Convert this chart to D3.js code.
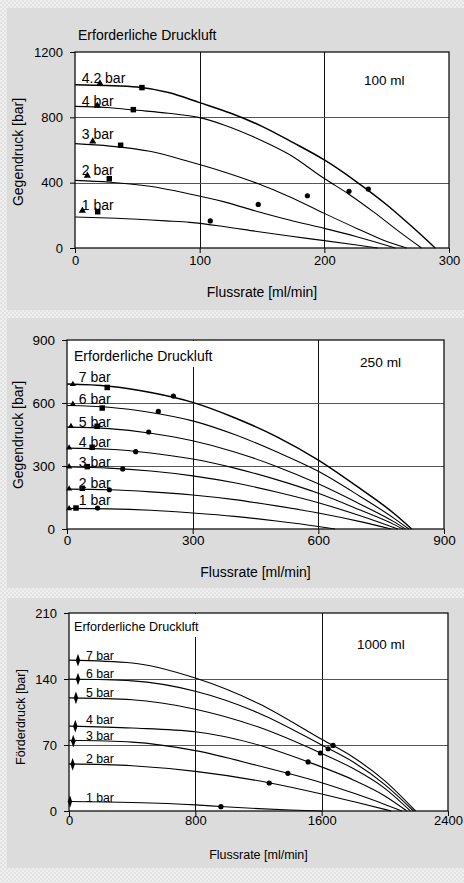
<!DOCTYPE html>
<html>
<head>
<meta charset="utf-8">
<script src="https://cdn.jsdelivr.net/npm/d3@7"></script>
<style>
  body { margin: 0; background: #dcdcdc; }
  svg { display: block; }
  text { font-family: "Liberation Sans", Arial, sans-serif; fill: #000; }
</style>
</head>
<body>
<div id="chart"></div>
<script>
// ---------- 100 ml ----------
const labels100 = ["1 bar", "2 bar", "3 bar", "4 bar", "4.2 bar"];
const curve100_1 = [[0,190],[33,182],[73,166],[92,157],[119,132],[146,101],[172,73],[200,45],[226,18],[243,0]];
const curve100_2 = [[0,414],[28,403],[60,378],[92,331],[119,284],[147,222],[172,171],[200,120],[226,69],[257,0]];
const curve100_3 = [[0,639],[28,624],[60,592],[92,528],[119,467],[146,396],[172,314],[200,212],[226,120],[247,49],[266,0]];
const curve100_4 = [[0,867],[25,860],[50,843],[75,825],[100,798],[120,752],[146,671],[172,572],[200,425],[220,328],[240,218],[260,100],[278,0]];
const curve100_42 = [[0,1000],[25,995],[50,985],[75,952],[100,890],[125,825],[150,745],[175,645],[200,539],[225,410],[250,265],[270,133],[289,0]];
const tri100 = [[5.9,229],[9.9,443],[14.2,653],[17.9,871],[20,1008]];
const sq100 = [[18.2,222],[27.5,424],[36.6,629],[46.8,847],[53.7,982]];
const dot100 = [[108.5,166],[147,267],[186.4,320],[219.8,347],[235.3,361]];
const labelAt100 = [[5.4,233],[5.4,450],[5.4,667],[5.4,869],[5.4,1010]];

// ---------- 250 ml ----------
const labels250 = ["1 bar", "2 bar", "3 bar", "4 bar", "5 bar", "6 bar", "7 bar"];
const curve250_1 = [[0,98],[100,96],[200,89],[300,76],[400,60],[500,38],[600,12],[640,0]];
const curve250_2 = [[0,190],[100,187],[200,177],[300,162],[400,140],[500,110],[600,76],[700,35],[774,0]];
const curve250_3 = [[0,295],[100,290],[200,276],[300,253],[400,220],[500,176],[600,125],[700,63],[790,0]];
const curve250_4 = [[0,385],[100,380],[200,362],[300,333],[400,290],[500,235],[600,170],[700,90],[780,22],[802,0]];
const curve250_5 = [[0,485],[100,478],[200,456],[300,420],[400,367],[500,298],[600,215],[700,118],[780,35],[808,0]];
const curve250_6 = [[0,588],[100,580],[200,555],[300,515],[400,450],[500,368],[600,275],[700,155],[780,52],[816,0]];
const curve250_7 = [[0,690],[100,680],[200,650],[300,603],[400,530],[500,440],[600,328],[700,192],[780,75],[823,0]];
const tri250 = [[5,98],[5,192],[5,297],[5,387],[9.5,489],[14,595],[14,689]];
const sq250 = [[21.5,100],[36.6,194],[48.5,297],[60,389],[72,489],[84,576],[96,674]];
const dot250 = [[73,100],[101,187],[133,286],[164,368],[195,462],[218,560],[254,633]];
const labelAt250 = [[28,114],[28,194],[28,297],[28,389],[28,487],[28,595],[28,701]];

// ---------- 1000 ml ----------
const labels1000 = ["1 bar", "2 bar", "3 bar", "4 bar", "5 bar", "6 bar", "7 bar"];
const curve1000_1 = [[0,10],[400,9],[800,6.5],[962,4.8],[1200,2.5],[1400,1],[1600,0]];
const curve1000_2 = [[0,50],[400,48],[800,42],[1266,30],[1600,18],[1800,10],[2040,0]];
const curve1000_3 = [[0,75],[400,73],[800,64],[1200,48],[1385,40],[1600,30],[1800,19],[2000,7],[2108,0]];
const curve1000_4 = [[0,90],[400,88],[800,84],[1200,70],[1516,52],[1800,33],[2000,16],[2140,0]];
const curve1000_5 = [[0,120],[400,118],[800,108],[1200,89],[1600,61],[1800,45],[2000,24],[2162,0]];
const curve1000_6 = [[0,140],[400,138],[800,127],[1200,104],[1600,70],[1800,52],[2000,28],[2182,0]];
const curve1000_7 = [[0,160],[400,157],[800,141],[1200,114],[1600,76],[1800,57],[2000,32],[2195,0]];
const dia1000 = [[6,10],[23,49.5],[27,74],[40,90],[44,120],[57,140],[57,160]];
const dot1000 = [[962,4.6],[1268,29.7],[1386,40],[1514,52],[1592,61.5],[1641,66],[1672,69.6]];
const labelAt1000 = [[107,10],[107,50.6],[107,75],[107,92],[107,121],[107,141],[107,160]];

const titleText = "Erforderliche Druckluft";

const svg = d3.select("#chart").append("svg")
    .attr("width", 464)
    .attr("height", 883);

// background with light dotted separator bands
const pat = svg.append("defs").append("pattern")
    .attr("id", "dots").attr("width", 4).attr("height", 4)
    .attr("patternUnits", "userSpaceOnUse");
pat.append("rect").attr("width", 4).attr("height", 4).attr("fill", "#e3e3e3");
pat.append("rect").attr("width", 2).attr("height", 2).attr("fill", "#efefef");
pat.append("rect").attr("x", 2).attr("y", 2).attr("width", 2).attr("height", 2).attr("fill", "#efefef");

svg.append("rect").attr("width", 464).attr("height", 883).attr("fill", "#dcdcdc");
[[0, 0, 7, 883], [0, 0, 464, 8], [0, 310, 464, 8], [0, 588, 464, 10], [0, 868, 464, 15]]
    .forEach(b => svg.append("rect")
        .attr("x", b[0]).attr("y", b[1]).attr("width", b[2]).attr("height", b[3])
        .attr("fill", "url(#dots)"));

function drawPanel(p) {
    const x = d3.scaleLinear().domain(p.xDomain).range([p.left, p.right]);
    const y = d3.scaleLinear().domain(p.yDomain).range([p.bottom, p.top]);
    const g = svg.append("g");

    g.append("rect")
        .attr("x", p.left).attr("y", p.top)
        .attr("width", p.right - p.left).attr("height", p.bottom - p.top)
        .attr("fill", "#fff");

    // grid lines
    g.selectAll(".vgrid").data(p.xTicks.slice(1, -1)).enter().append("line")
        .attr("x1", d => Math.round(x(d)) + 0.5).attr("x2", d => Math.round(x(d)) + 0.5)
        .attr("y1", p.top).attr("y2", p.bottom)
        .style("stroke", "#111").style("stroke-width", 1);
    g.selectAll(".hgrid").data(p.yTicks.slice(1, -1)).enter().append("line")
        .attr("x1", p.left).attr("x2", p.right)
        .attr("y1", d => Math.round(y(d)) + 0.5).attr("y2", d => Math.round(y(d)) + 0.5)
        .style("stroke", "#555").style("stroke-width", 1);

    // title (inside plot gets a white box that hides the grid)
    const title = g.append("text")
        .attr("x", p.titleX).attr("y", p.titleY)
        .style("font-size", p.titleSize + "px")
        .text(titleText);
    if (p.titleBox) {
        const bb = title.node().getBBox();
        g.insert("rect", "text")
            .attr("x", p.left + 1).attr("y", p.top + 1)
            .attr("width", bb.x + bb.width + 3 - p.left)
            .attr("height", bb.y + bb.height + 2 - p.top)
            .attr("fill", "#fff");
    }

    g.append("text")
        .attr("x", p.volX).attr("y", p.volY)
        .style("font-size", p.volSize + "px")
        .text(p.volume);

    // curves
    const line = d3.line()
        .x(d => x(d[0]))
        .y(d => y(d[1]))
        .curve(d3.curveMonotoneX);
    g.selectAll(".curve").data(p.curves).enter().append("path")
        .attr("d", line)
        .style("fill", "none")
        .style("stroke", "#000")
        .style("stroke-width", (d, i) => i === p.curves.length - 1 ? p.heavy : 1.1);

    // markers
    const sym = (type, size) => d3.symbol().type(type).size(size);
    if (p.tri) g.selectAll(".tri").data(p.tri).enter().append("path")
        .attr("transform", d => `translate(${x(d[0])},${y(d[1])})`)
        .attr("d", sym(d3.symbolTriangle, p.triSize)).style("fill", "#000");
    if (p.sq) g.selectAll(".sq").data(p.sq).enter().append("path")
        .attr("transform", d => `translate(${x(d[0])},${y(d[1])})`)
        .attr("d", sym(d3.symbolSquare, 30)).style("fill", "#000");
    if (p.dia) g.selectAll(".dia").data(p.dia).enter().append("path")
        .attr("transform", d => `translate(${x(d[0])},${y(d[1])}) scale(0.75,1.25)`)
        .attr("d", sym(d3.symbolDiamond, 30)).style("fill", "#000");
    g.selectAll(".dot").data(p.dots).enter().append("circle")
        .attr("cx", d => x(d[0])).attr("cy", d => y(d[1]))
        .attr("r", 2.6).style("fill", "#000");

    // curve labels
    g.selectAll(".lab").data(p.labels).enter().append("text")
        .attr("x", (d, i) => x(p.labelAt[i][0]))
        .attr("y", (d, i) => y(p.labelAt[i][1]))
        .style("font-size", p.labelSize + "px")
        .text(d => d);

    // axes
    const xAxis = g.append("g")
        .attr("transform", `translate(0,${p.bottom})`)
        .call(d3.axisBottom(x).tickValues(p.xTicks).tickFormat(d3.format("d"))
            .tickSize(5).tickSizeOuter(0));
    xAxis.selectAll("text")
        .attr("dy", null).attr("y", p.xTickY)
        .style("font-size", p.tickSize + "px");
    const yAxis = g.append("g")
        .attr("transform", `translate(${p.left},0)`)
        .call(d3.axisLeft(y).tickValues(p.yTicks).tickFormat(d3.format("d"))
            .tickSize(5).tickSizeOuter(0).tickPadding(7));
    yAxis.selectAll("text").style("font-size", p.tickSize + "px");
    g.selectAll(".domain").remove();
    g.selectAll(".tick line").style("stroke", "#000");
    g.selectAll(".tick text").style("font-family", null).attr("fill", "#000");

    g.append("rect")
        .attr("x", p.left).attr("y", p.top)
        .attr("width", p.right - p.left).attr("height", p.bottom - p.top)
        .style("fill", "none").style("stroke", "#111").style("stroke-width", 1.3);

    g.append("text")
        .attr("x", (p.left + p.right) / 2).attr("y", p.xLabelY)
        .attr("text-anchor", "middle")
        .style("font-size", p.axisSize + "px")
        .text("Flussrate [ml/min]");
    g.append("text")
        .attr("transform", `translate(${p.yLabelX},${p.yLabelY}) rotate(-90)`)
        .attr("text-anchor", "middle")
        .style("font-size", p.axisSize + "px")
        .text(p.yTitle);
}

drawPanel({
    left: 75, right: 449, top: 52, bottom: 248,
    xDomain: [0, 300], yDomain: [0, 1200],
    xTicks: [0, 100, 200, 300], yTicks: [0, 400, 800, 1200],
    curves: [curve100_1, curve100_2, curve100_3, curve100_4, curve100_42],
    tri: tri100, triSize: 22, sq: sq100, dots: dot100,
    labels: labels100, labelAt: labelAt100,
    volume: "100 ml", volX: 364, volY: 85, volSize: 13.5,
    titleX: 78, titleY: 40, titleSize: 14, titleBox: false,
    yTitle: "Gegendruck [bar]", yLabelX: 23, yLabelY: 152,
    labelSize: 14, tickSize: 13, axisSize: 14, heavy: 1.5,
    xTickY: 17, xLabelY: 297
});

drawPanel({
    left: 67, right: 444, top: 340, bottom: 529,
    xDomain: [0, 900], yDomain: [0, 900],
    xTicks: [0, 300, 600, 900], yTicks: [0, 300, 600, 900],
    curves: [curve250_1, curve250_2, curve250_3, curve250_4, curve250_5, curve250_6, curve250_7],
    tri: tri250, triSize: 16, sq: sq250, dots: dot250,
    labels: labels250, labelAt: labelAt250,
    volume: "250 ml", volX: 360, volY: 367, volSize: 13.7,
    titleX: 74, titleY: 361, titleSize: 14, titleBox: true,
    yTitle: "Gegendruck [bar]", yLabelX: 23, yLabelY: 435,
    labelSize: 14, tickSize: 13.5, axisSize: 14, heavy: 1.5,
    xTickY: 16, xLabelY: 577
});

drawPanel({
    left: 69, right: 448, top: 613, bottom: 811,
    xDomain: [0, 2400], yDomain: [0, 210],
    xTicks: [0, 800, 1600, 2400], yTicks: [0, 70, 140, 210],
    curves: [curve1000_1, curve1000_2, curve1000_3, curve1000_4, curve1000_5, curve1000_6, curve1000_7],
    dia: dia1000, dots: dot1000,
    labels: labels1000, labelAt: labelAt1000,
    volume: "1000 ml", volX: 357, volY: 649, volSize: 13.4,
    titleX: 74, titleY: 631, titleSize: 12.6, titleBox: true,
    yTitle: "Förderdruck [bar]", yLabelX: 25, yLabelY: 717,
    labelSize: 12.3, tickSize: 13, axisSize: 12.5, heavy: 1.1,
    xTickY: 14, xLabelY: 859
});
</script>
</body>
</html>
